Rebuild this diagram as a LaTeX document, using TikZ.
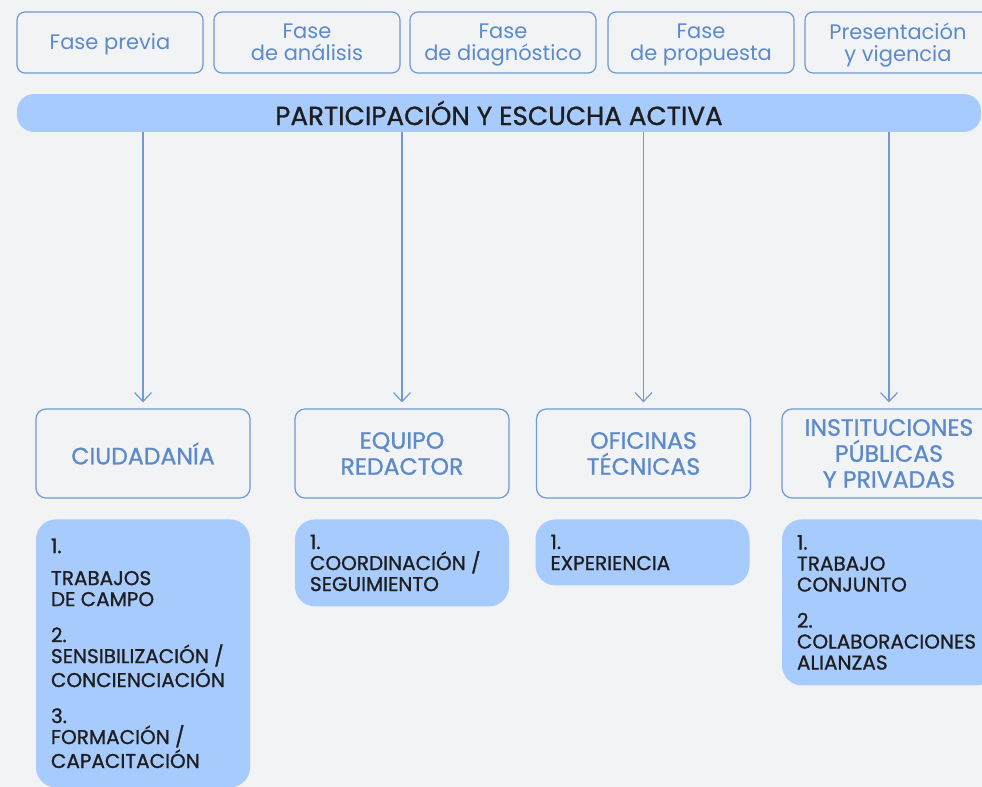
\documentclass[tikz,border=0pt]{standalone}
\usepackage{fontspec}
\setmainfont{Poppins}
\newfontfamily\medio[FakeBold=1]{Poppins}
\usetikzlibrary{arrows.meta}

\definecolor{fondo}{HTML}{F1F3F5}
\definecolor{azulborde}{HTML}{7199D3}
\definecolor{azultexto}{HTML}{5C8ACB}
\definecolor{azulrelleno}{HTML}{A8CBFD}
\definecolor{negro}{HTML}{1E1E1E}

\begin{document}
\begin{tikzpicture}[x=0.5pt,y=-0.5pt,
	fase/.style={draw=azulborde, line width=0.6pt, rounded corners=4pt,
		minimum width=93pt, minimum height=30.5pt, align=center, text depth=0.5pt,
		text=azultexto, font=\fontsize{10.5}{11}\selectfont},
	banda/.style={fill=azulrelleno, rounded corners=8.5pt,
		minimum width=482pt, minimum height=17pt,
		text=negro, font=\medio\fontsize{13.1}{14}\selectfont},
	actor/.style={draw=azulborde, line width=0.6pt, rounded corners=5pt,
		minimum width=107pt, minimum height=44.5pt, align=center,
		text=azultexto, font=\medio\fontsize{11.8}{13}\selectfont},
	lista/.style={fill=azulrelleno, rounded corners=10pt, anchor=north,
		text width=92pt, inner xsep=7.5pt, align=flush left,
		text=negro, font=\medio\fontsize{10}{10.5}\selectfont},
	flecha/.style={draw=azulborde, line width=0.6pt,
		-{Straight Barb[length=4.5pt,width=8.5pt]}, shorten >=3pt}]
\useasboundingbox (0,0) rectangle (982,787);
\clip (0,0) rectangle (982,787);
\fill[fondo] (0,0) rectangle (982,787);

% fases
\node[fase] (f1) at (110,42.5) {Fase previa};
\node[fase] (f2) at (307,42.5) {Fase\\de análisis};
\node[fase] (f3) at (503,42.5) {Fase\\de diagnóstico};
\node[fase] (f4) at (701,42.5) {Fase\\de propuesta};
\node[fase] (f5) at (898,42.5) {Presentación\\y vigencia};

\node[banda] (banda) at (499,113) {PARTICIPACIÓN Y ESCUCHA ACTIVA};

% agentes
\node[actor] (a1) at (143,453.5) {CIUDADANÍA};
\node[actor] (a2) at (402,453.5) {EQUIPO\\REDACTOR};
\node[actor] (a3) at (643.5,453.5) {OFICINAS\\TÉCNICAS};
\node[actor] (a4) at (889,453.5) {INSTITUCIONES\\PÚBLICAS\\Y PRIVADAS};

\foreach \a in {a1,a2,a3,a4}
	\draw[flecha] (banda.south -| \a) -- (\a.north);

% listas
\node[lista, minimum height=134pt] (l1) at (143,519)
	{1.\\[5.5pt]TRABAJOS\\DE CAMPO\\[7.5pt]2.\\SENSIBILIZACIÓN~/\\CONCIENCIACIÓN\\[7.5pt]3.\\FORMACIÓN~/\\CAPACITACIÓN};
\node[lista, minimum height=43.5pt] (l2) at (402,519)
	{1.\\COORDINACIÓN~/\\SEGUIMIENTO};
\node[lista, minimum height=33pt] (l3) at (642.5,519)
	{1.\\EXPERIENCIA};
\node[lista, minimum height=83pt] (l4) at (889,519)
	{1.\\TRABAJO\\CONJUNTO\\[7.5pt]2.\\COLABORACIONES\\ALIANZAS};
\end{tikzpicture}
\end{document}
